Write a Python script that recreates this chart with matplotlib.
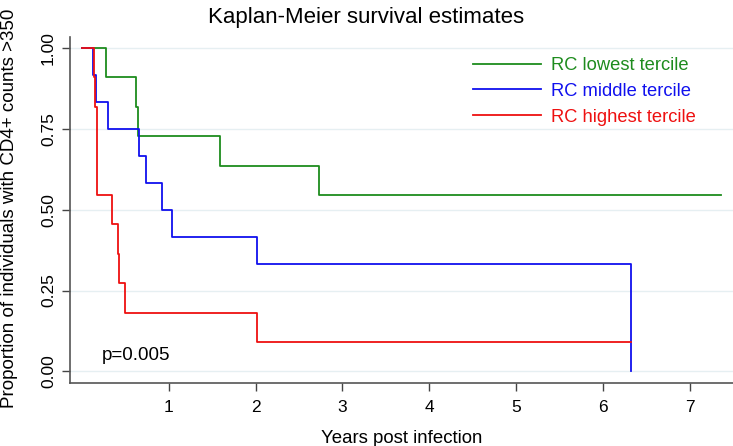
import matplotlib
matplotlib.use("Agg")
import matplotlib.pyplot as plt

plt.rcParams['font.family'] = ['Liberation Sans', 'DejaVu Sans']

# Kaplan-Meier step data (years, survival proportion)
green_t = [0, 0.28, 0.62, 0.64, 1.59, 2.73, 7.36]
green_s = [1.0, 0.909, 0.818, 0.727, 0.636, 0.545, 0.545]
blue_t = [0, 0.13, 0.16, 0.30, 0.66, 0.74, 0.92, 1.04, 2.02, 6.32, 6.32]
blue_s = [1.0, 0.917, 0.833, 0.75, 0.667, 0.583, 0.5, 0.417, 0.333, 0.0, 0.0]
red_t = [0, 0.14, 0.15, 0.17, 0.35, 0.41, 0.43, 0.50, 2.02, 6.32]
red_s = [1.0, 0.909, 0.818, 0.545, 0.455, 0.364, 0.273, 0.182, 0.091, 0.091]

labels = ["RC lowest tercile", "RC middle tercile", "RC highest tercile"]
colors = ["#1e8c1e", "#1010ee", "#ee1010"]
xticks = [1, 2, 3, 4, 5, 6, 7]
yticks = [0.0, 0.25, 0.5, 0.75, 1.0]
ytick_labels = ["0.00", "0.25", "0.50", "0.75", "1.00"]

fig = plt.figure(figsize=(7.33, 4.46), dpi=100)
ax = fig.add_axes([70/733, 1 - 383/446, 1 - 70/733, (383 - 37)/446])

for t, s, c, lab in zip([green_t, blue_t, red_t], [green_s, blue_s, red_s], colors, labels):
    ax.step(t, s, where='post', color=c, lw=1.3, label=lab)

ax.set_xlim(-0.139, 7.5)
ax.set_ylim(-0.036, 1.034)
ax.set_xticks(xticks)
ax.set_xticklabels([str(v) for v in xticks], fontsize=12.5)
ax.set_yticks(yticks)
ax.set_yticklabels(ytick_labels, fontsize=12.5, rotation=90, va='center')
ax.tick_params(axis='both', direction='out', length=6, width=1, color='#444444')
ax.tick_params(axis='y', pad=4)
ax.tick_params(axis='x', pad=6)
ax.yaxis.grid(True, color='#e6eff2', lw=1)
ax.set_axisbelow(True)
for sp in ['top', 'right']:
    ax.spines[sp].set_visible(False)
for sp in ['left', 'bottom']:
    ax.spines[sp].set_color('#555555')
    ax.spines[sp].set_linewidth(1.2)

ax.set_xlabel("Years post infection", fontsize=13.4, labelpad=11)
ax.set_ylabel("Proportion of individuals with CD4+ counts >350", fontsize=13.5)
ax.yaxis.set_label_coords((18 - 70)/663, 0.505)
fig.suptitle("Kaplan-Meier survival estimates", fontsize=16, y=0.985)

ax.text(0.23, 0.05, "p=0.005", fontsize=13.5, va='center', ha='left')

leg = ax.legend(loc='upper left', bbox_to_anchor=(0.583, 0.99), frameon=False,
                fontsize=13.2, handlelength=3.7, handletextpad=0.55,
                labelspacing=0.48, labelcolor='linecolor')

fig.savefig("out.png", dpi=100)
